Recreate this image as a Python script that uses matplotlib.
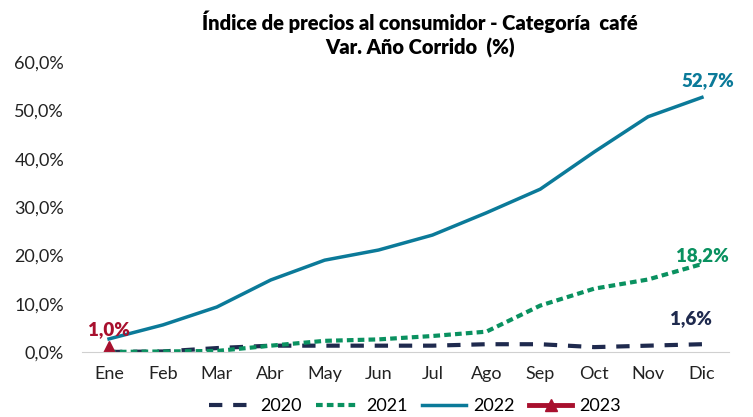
import matplotlib.pyplot as plt

months = ["Ene", "Feb", "Mar", "Abr", "May", "Jun", "Jul", "Ago", "Sep", "Oct", "Nov", "Dic"]
v2020 = [0.0, 0.1, 0.8, 1.3, 1.3, 1.3, 1.3, 1.6, 1.6, 1.0, 1.3, 1.6]
v2021 = [0.0, 0.1, 0.2, 1.3, 2.3, 2.6, 3.3, 4.2, 9.6, 13.1, 15.0, 18.2]
v2022 = [2.7, 5.6, 9.3, 14.9, 19.0, 21.1, 24.2, 28.8, 33.7, 41.4, 48.7, 52.7]
v2023 = [1.0]

c2020 = "#1f2a4e"
c2021 = "#0a9160"
c2022 = "#0b7a99"
c2023 = "#a8102e"

plt.rcParams["font.family"] = ["Lato", "DejaVu Sans"]

fig = plt.figure(figsize=(7.53, 4.17), dpi=100)
ax = fig.add_axes([0.109, 0.156, 0.859, 0.695])

x = list(range(len(months)))
ax.plot(x, v2020, color=c2020, lw=3, dashes=(3.2, 2.6), label="2020")
ax.plot(x, v2021, color=c2021, lw=3, dashes=(1.6, 1.0), label="2021")
ax.plot(x, v2022, color=c2022, lw=2.5, label="2022")
ax.plot(x[:len(v2023)], v2023, color=c2023, lw=3.5, marker="^", ms=9, label="2023")

ax.set_xlim(-0.5, 11.5)
ax.set_ylim(0, 60)
ax.set_yticks([0, 10, 20, 30, 40, 50, 60])
ax.set_yticklabels([f"{v:.1f}%".replace(".", ",") for v in [0, 10, 20, 30, 40, 50, 60]])
ax.set_xticks(x)
ax.set_xticklabels(months)
ax.tick_params(length=0, labelsize=13, colors="#222222")
ax.tick_params(axis="x", pad=10)
ax.tick_params(axis="y", pad=13)
for s in ["top", "right", "left"]:
    ax.spines[s].set_visible(False)
ax.spines["bottom"].set_color("#d0d0d0")

# value labels
ax.text(11.1, 55.0, "52,7%", color=c2022, fontsize=13.5, fontweight="heavy", ha="center")
ax.text(11.0, 18.8, "18,2%", color=c2021, fontsize=13.5, fontweight="heavy", ha="center")
ax.text(10.8, 5.8, "1,6%", color=c2020, fontsize=13.5, fontweight="heavy", ha="center")
ax.text(0.0, 3.4, "1,0%", color=c2023, fontsize=13.5, fontweight="heavy", ha="center")

fig.text(0.558, 0.975, "Índice de precios al consumidor - Categoría  café\nVar. Año Corrido  (%)",
         ha="center", va="top", fontsize=14.5, fontweight="heavy", linespacing=1.3)

ax.legend(loc="upper center", bbox_to_anchor=(0.515, -0.125), ncol=4, frameon=False,
          fontsize=13, handlelength=2.4, handletextpad=0.4, columnspacing=0.8,
          borderpad=0.05)

fig.savefig("out.png", dpi=100)
